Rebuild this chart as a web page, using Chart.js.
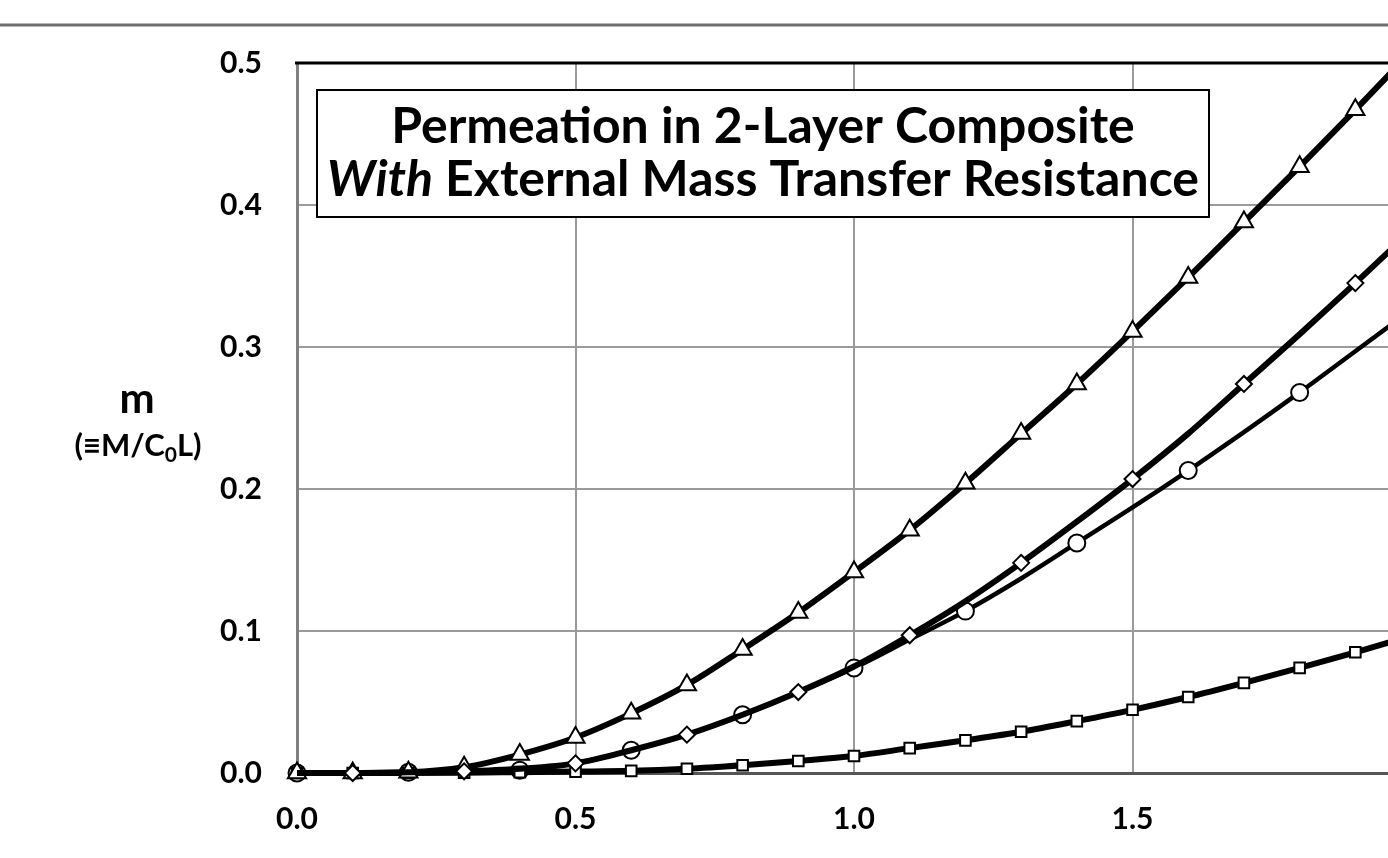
<!DOCTYPE html>
<html>
<head>
<meta charset="utf-8">
<script src="https://cdn.jsdelivr.net/npm/chart.js@4.4.1/dist/chart.umd.min.js"></script>
<style>
  html, body { margin: 0; padding: 0; background: #fff; overflow: hidden; }
  #wrap { width: 1460px; height: 858px; }
</style>
</head>
<body>
<div id="wrap"><canvas id="perm" width="1460" height="858"></canvas></div>
<script>
// dimensionless time (x) and uptake m for the four cases
const X = [0.0, 0.1, 0.2, 0.3, 0.4, 0.5, 0.6, 0.7, 0.8, 0.9, 1.0,
           1.1, 1.2, 1.3, 1.4, 1.5, 1.6, 1.7, 1.8, 1.9, 2.0];
const triangleY = [0, 0, 0.0005, 0.004, 0.013, 0.025, 0.042, 0.062, 0.087, 0.113, 0.1415,
                   0.171, 0.204, 0.239, 0.274, 0.311, 0.349, 0.388, 0.427, 0.467, 0.508];
const diamondY = [0, 0, 0.0005, 0.0012, 0.003, 0.0068, 0.016, 0.027, 0.041, 0.057, 0.075,
                  0.097, 0.121, 0.148, 0.177, 0.207, 0.239, 0.274, 0.309, 0.345, 0.382];
const circleY = [0, 0, 0.0005, 0.0012, 0.002, 0.0068, 0.016, 0.027, 0.041, 0.057, 0.074,
                 0.094, 0.114, 0.137, 0.162, 0.187, 0.213, 0.240, 0.268, 0.297, 0.326];
const squareY = [0, 0, 0, 0.0002, 0.0006, 0.001, 0.0015, 0.003, 0.0055, 0.0085, 0.012,
                 0.0175, 0.023, 0.029, 0.0365, 0.0445, 0.0535, 0.0635, 0.074, 0.085, 0.0965];

const xTicks = [0.0, 0.5, 1.0, 1.5, 2.0];
const yTicks = [0.0, 0.1, 0.2, 0.3, 0.4, 0.5];

const titleLine1 = 'Permeation in 2-Layer Composite';
const titleItalic = 'With';
const titleLine2 = ' External Mass Transfer Resistance';
const yTitle = 'm';
const yTitleSub = ['(\u2261M/C', '0', 'L)'];

const FONT = "Lato, 'DejaVu Sans', sans-serif";

function toPoints(ys) {
  return X.map((x, i) => ({ x, y: ys[i] }));
}

// markers only on some points (diamonds on odd tenths, circles on even)
function everyOther(parity, r) {
  return ctx => (ctx.dataIndex % 2 === parity ? r : 0);
}

function series(ys, style, radius, lineWidth, order) {
  return {
    data: toPoints(ys),
    order: order,
    borderColor: '#000',
    backgroundColor: '#fff',
    borderWidth: lineWidth,
    pointStyle: style,
    pointRadius: radius,
    pointBorderColor: '#000',
    pointBackgroundColor: '#fff',
    pointBorderWidth: 2,
    cubicInterpolationMode: 'monotone',
    clip: { left: 20, bottom: 20, top: 0, right: 0 },
    showLine: true,
    fill: false
  };
}

const decorations = {
  id: 'decorations',
  beforeDraw(chart) {
    const ctx = chart.ctx;
    ctx.save();
    ctx.strokeStyle = '#6e6e6e';
    ctx.lineWidth = 3;
    ctx.beginPath();
    ctx.moveTo(0, 25);
    ctx.lineTo(chart.width, 25);
    ctx.stroke();
    ctx.restore();
  },
  afterDraw(chart) {
    const ctx = chart.ctx;
    const a = chart.chartArea;
    ctx.save();

    // heavy top frame of the plot area
    ctx.strokeStyle = '#000';
    ctx.lineWidth = 3;
    ctx.beginPath();
    ctx.moveTo(a.left - 2, a.top);
    ctx.lineTo(chart.width, a.top);
    ctx.stroke();

    // title box
    const bx = a.left + 20, by = a.top + 27, bw = 892, bh = 127;
    ctx.fillStyle = '#fff';
    ctx.fillRect(bx, by, bw, bh);
    ctx.strokeStyle = '#000';
    ctx.lineWidth = 2;
    ctx.strokeRect(bx, by, bw, bh);

    const cx = bx + bw / 2;
    let size = 44;
    ctx.font = 'italic bold ' + size + 'px ' + FONT;
    let w1 = ctx.measureText(titleItalic).width;
    ctx.font = 'bold ' + size + 'px ' + FONT;
    let w2 = ctx.measureText(titleLine2).width;
    size = size * 872 / (w1 + w2);

    ctx.fillStyle = '#000';
    ctx.textBaseline = 'alphabetic';
    ctx.textAlign = 'center';
    ctx.font = 'bold ' + size + 'px ' + FONT;
    ctx.fillText(titleLine1, cx, by + 53);

    ctx.textAlign = 'left';
    ctx.font = 'italic bold ' + size + 'px ' + FONT;
    w1 = ctx.measureText(titleItalic).width;
    ctx.font = 'bold ' + size + 'px ' + FONT;
    w2 = ctx.measureText(titleLine2).width;
    const sx = cx - (w1 + w2) / 2;
    ctx.font = 'italic bold ' + size + 'px ' + FONT;
    ctx.fillText(titleItalic, sx, by + 106);
    ctx.font = 'bold ' + size + 'px ' + FONT;
    ctx.fillText(titleLine2, sx + w1, by + 106);

    // y axis title
    ctx.textAlign = 'center';
    ctx.font = 'bold 42px ' + FONT;
    ctx.fillText(yTitle, 137, 413);

    const big = 'bold 31px ' + FONT, small = 'bold 21px ' + FONT;
    ctx.font = big;
    const p0 = ctx.measureText(yTitleSub[0]).width;
    const p2 = ctx.measureText(yTitleSub[2]).width;
    ctx.font = small;
    const p1 = ctx.measureText(yTitleSub[1]).width;
    let tx = 138 - (p0 + p1 + p2) / 2;
    ctx.textAlign = 'left';
    ctx.font = big;
    ctx.fillText(yTitleSub[0], tx, 456);
    ctx.font = small;
    ctx.fillText(yTitleSub[1], tx + p0, 462);
    ctx.font = big;
    ctx.fillText(yTitleSub[2], tx + p0 + p1, 456);

    ctx.restore();
  }
};

const ctx = document.getElementById('perm').getContext('2d');

new Chart(ctx, {
  type: 'scatter',
  data: {
    datasets: [
      series(triangleY, 'triangle', 10.5, 6, 1),
      series(diamondY, 'rectRot', everyOther(1, 8), 6, 0),
      series(circleY, 'circle', everyOther(0, 8.5), 4.5, 3),
      series(squareY, 'rect', 7.5, 6, 2)
    ]
  },
  options: {
    responsive: false,
    animation: false,
    events: [],
    layout: {
      padding: { left: 0, top: 63, right: 39, bottom: 0 }
    },
    plugins: {
      legend: { display: false },
      tooltip: { enabled: false }
    },
    scales: {
      x: {
        type: 'linear',
        min: 0,
        max: 2,
        afterBuildTicks: scale => { scale.ticks = xTicks.map(v => ({ value: v })); },
        afterFit: scale => { scale.height = 85; },
        ticks: {
          color: '#000',
          padding: 28,
          maxRotation: 0,
          font: { family: FONT, size: 30, weight: 'bold' },
          callback: v => v.toFixed(1)
        },
        grid: {
          color: ctx => (ctx.tick && ctx.tick.value === 0 ? 'rgba(0,0,0,0)' : '#9a9a9a'),
          lineWidth: 2,
          drawTicks: false
        },
        border: { color: '#555', width: 3 }
      },
      y: {
        type: 'linear',
        min: 0,
        max: 0.5,
        afterBuildTicks: scale => { scale.ticks = yTicks.map(v => ({ value: v })); },
        afterFit: scale => { scale.width = 297; },
        ticks: {
          color: '#000',
          padding: 35,
          font: { family: FONT, size: 30, weight: 'bold' },
          callback: v => v.toFixed(1)
        },
        grid: {
          color: ctx => (ctx.tick && (ctx.tick.value === 0 || ctx.tick.value === 0.5) ? 'rgba(0,0,0,0)' : '#9a9a9a'),
          lineWidth: 2,
          drawTicks: false
        },
        border: { color: '#808080', width: 3 }
      }
    }
  },
  plugins: [decorations]
});
</script>
</body>
</html>
